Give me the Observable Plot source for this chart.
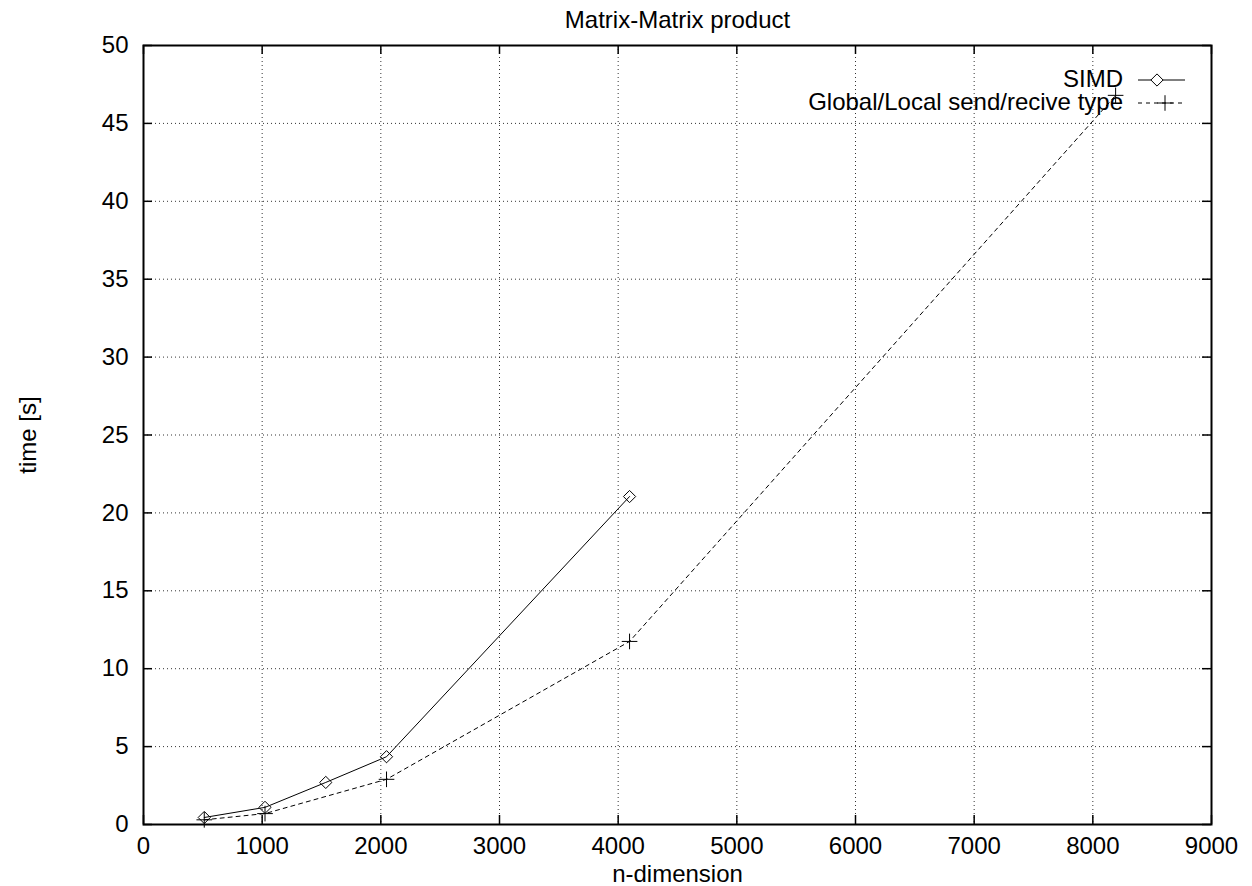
<!DOCTYPE html>
<html>
<head>
<meta charset="utf-8">
<script src="https://cdn.jsdelivr.net/npm/d3@7"></script>
<script src="https://cdn.jsdelivr.net/npm/@observablehq/plot@0.6"></script>
<style>
  html, body { margin: 0; padding: 0; background: #fff; }
  svg { font-family: "Liberation Sans", Arial, sans-serif; }
</style>
</head>
<body>
<div id="chart"></div>
<script>
const title = "Matrix-Matrix product";
const xLabel = "n-dimension";
const yLabel = "time [s]";
const seriesNames = ["SIMD", "Global/Local send/recive type"];
const simdN = [512, 1024, 1536, 2048, 4096];
const simdT = [0.45, 1.1, 2.7, 4.35, 21.05];
const globalN = [512, 1024, 2048, 4096, 8192];
const globalT = [0.3, 0.7, 2.9, 11.75, 46.8];
const xTicks = [0, 1000, 2000, 3000, 4000, 5000, 6000, 7000, 8000, 9000];
const yTicks = [0, 5, 10, 15, 20, 25, 30, 35, 40, 45, 50];

const simd = simdN.map((n, i) => ({n, t: simdT[i]}));
const glob = globalN.map((n, i) => ({n, t: globalT[i]}));

const W = 1252, H = 886;
const mL = 143, mR = 41, mT = 45, mB = 62;
const fw = W - mL - mR, fh = H - mT - mB;
const tick = 9;
const fs = 24;

const plot = Plot.plot({
  width: W, height: H,
  marginLeft: mL, marginRight: mR, marginTop: mT, marginBottom: mB,
  style: {fontFamily: '"Liberation Sans", Arial, sans-serif', fontSize: fs + "px", color: "#000", background: "#fff"},
  x: {domain: [0, 9000], ticks: xTicks},
  y: {domain: [0, 50], ticks: yTicks},
  marks: [
    Plot.ruleX(xTicks.slice(1, -1), {x: d => d, stroke: "#000", strokeDasharray: "1,3", strokeWidth: 1, strokeOpacity: 0.8}),
    Plot.ruleY(yTicks.slice(1, -1), {y: d => d, stroke: "#000", strokeDasharray: "1,3", strokeWidth: 1, strokeOpacity: 0.8}),
    Plot.tickX(xTicks, {x: d => d, insetTop: fh - tick, stroke: "#000", strokeWidth: 1.5}),
    Plot.tickX(xTicks, {x: d => d, insetBottom: fh - tick, stroke: "#000", strokeWidth: 1.5}),
    Plot.tickY(yTicks, {y: d => d, insetRight: fw - tick, stroke: "#000", strokeWidth: 1.5}),
    Plot.tickY(yTicks, {y: d => d, insetLeft: fw - tick, stroke: "#000", strokeWidth: 1.5}),
    Plot.axisX({ticks: xTicks, tickFormat: d => String(d), tickSize: 0, tickPadding: 12, fontSize: fs, label: xLabel, labelAnchor: "center", labelArrow: "none", labelOffset: 57}),
    Plot.axisY({ticks: yTicks, tickFormat: d => String(d), tickSize: 0, tickPadding: 15, fontSize: fs, label: yLabel, labelAnchor: "center", labelArrow: "none", labelOffset: 125}),
    Plot.frame({stroke: "#000", strokeWidth: 2}),
    Plot.line(simd, {x: "n", y: "t", stroke: "#000", strokeWidth: 1}),
    Plot.dot(simd, {x: "n", y: "t", symbol: "diamond2", r: 5.5, stroke: "#000", fill: "none", strokeWidth: 1}),
    Plot.line(glob, {x: "n", y: "t", stroke: "#000", strokeWidth: 1, strokeDasharray: "4,4"}),
    Plot.dot(glob, {x: "n", y: "t", symbol: "plus", r: 5.1, stroke: "#000", fill: "none", strokeWidth: 1}),
    Plot.text([title], {frameAnchor: "top", dy: -25, lineAnchor: "middle", fontSize: fs, fill: "#000"})
  ]
});

document.getElementById("chart").appendChild(plot);

// legend (top-right, gnuplot style)
const svg = d3.select(plot);
const lg = svg.append("g").attr("font-size", fs).attr("fill", "#000");
const rows = [
  {name: seriesNames[0], y: 80, dash: null, sym: d3.symbolDiamond2, sx: 1157, size: 95},
  {name: seriesNames[1], y: 103, dash: "4,4", sym: d3.symbolPlus, sx: 1165, size: 81}
];
for (const r of rows) {
  lg.append("text").attr("x", 1123).attr("y", r.y).attr("dy", "0.3em").attr("text-anchor", "end").text(r.name);
  lg.append("line").attr("x1", 1138).attr("x2", 1185).attr("y1", r.y).attr("y2", r.y)
    .attr("stroke", "#000").attr("stroke-width", 1).attr("stroke-dasharray", r.dash);
  lg.append("path").attr("transform", `translate(${r.sx},${r.y})`)
    .attr("d", d3.symbol(r.sym, r.size)()).attr("fill", "#fff").attr("stroke", "#000").attr("stroke-width", 1);
}
</script>
</body>
</html>
